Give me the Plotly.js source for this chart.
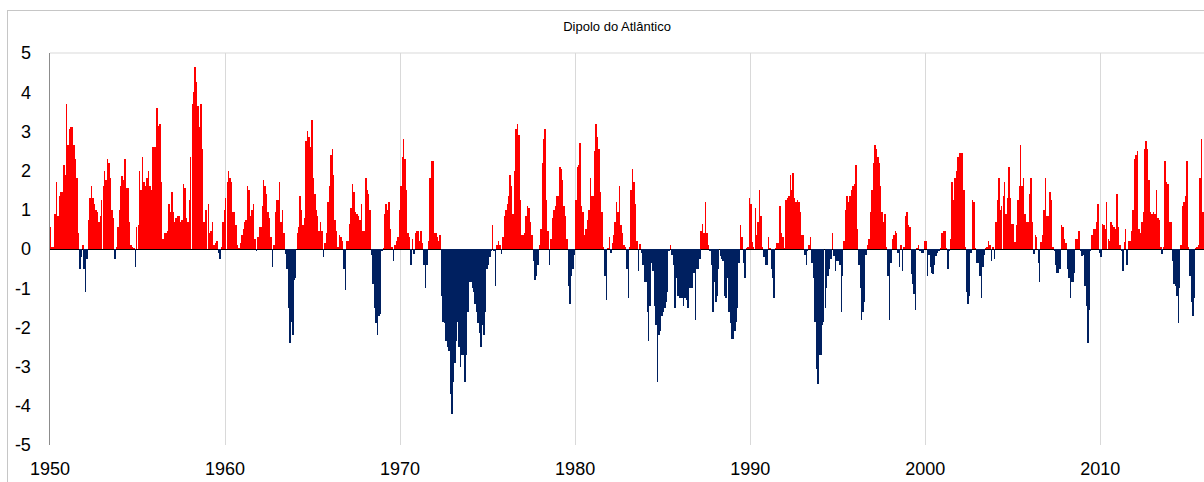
<!DOCTYPE html>
<html><head><meta charset="utf-8">
<script src="https://cdn.plot.ly/plotly-3.0.1.min.js"></script>
<style>
html,body{margin:0;padding:0;background:#fff;overflow:hidden;}
#frame{position:absolute;left:7px;top:10px;width:1400px;height:700px;border:1px solid #c6c6c6;box-sizing:border-box;}
#chart{position:absolute;left:0;top:0;width:1204px;height:482px;}
</style></head><body>
<div id="frame"></div>
<div id="chart"></div>
<script>
const startYear = 1950;
const chartTitle = 'Dipolo do Atlântico';
const decadeLabels = ['1950','1960','1970','1980','1990','2000','2010'];
const yTickValues = [5, 4, 3, 2, 1, 0, -1, -2, -3, -4, -5];
const yTickLabels = ['5', '4', '3', '2', '1', '0', '-1', '-2', '-3', '-4', '-5'];

// monthly values, one row per year
const d1950s = [
 0.55, 0.05, 0.05, 0.9, 1.7, 0.85, 1.35, 1.45, 1.45, 2.15, 1.9, 3.7,
 2.65, 3.05, 3.1, 3.1, 2.65, 2.3, 1.8, 0.4, -0.5, -0.2, 0.1, -0.5,
 -1.1, -0.25, 0.75, 1.3, 1.6, 1.3, 1.15, 1.0, 0.95, 0.7, 0.85, 1.25,
 1.6, 2.0, 1.75, 2.3, 2.2, 1.8, 1.0, 0.8, -0.25, 0.05, 0.55, 1.0,
 1.6, 1.85, 1.75, 2.3, 1.55, 1.55, 0.7, 0.1, 0.05, 0.02, -0.45, 0.55,
 0.6, 2.0, 1.5, 2.35, 1.7, 1.6, 1.8, 2.0, 1.6, 1.5, 2.6, 2.6,
 2.6, 3.6, 3.15, 3.2, 1.7, 0.25, 0.4, 0.4, 0.45, 1.15, 0.95, 1.45,
 0.95, 0.7, 0.8, 0.85, 0.85, 0.7, 0.75, 1.65, 1.55, 0.8, 0.7, 1.25,
 2.35, 3.7, 4.0, 4.65, 4.25, 3.65, 3.1, 3.7, 2.55, 0.7, 1.0, 1.0,
 1.15, 0.4, 0.45, 0.7, 0.1, 0.15, 0.2, -0.1, -0.25, 0.05, 0.7, 1.0
];
const d1960s = [
 1.3, 1.7, 2.0, 1.8, 1.7, 0.95, 0.95, 0.6, 0.1, 0.02, 0.15, 0.35,
 0.5, 0.7, 0.75, 1.6, 1.5, 0.85, 1.0, 1.15, 0.25, -0.05, 0.3, 0.55,
 0.55, 1.1, 1.75, 1.6, 1.4, 0.95, 0.8, 0.3, -0.45, 0.1, 0.95, 1.25,
 1.25, 1.7, 0.7, 1.0, 0.4, -0.12, -0.5, -1.5, -2.4, -1.85, -2.2, -0.8,
 -0.75, 0.4, 0.55, 1.35, 1.0, 0.6, 0.8, 2.75, 3.0, 2.85, 2.6, 3.3,
 1.8, 1.4, 1.0, 0.85, 0.45, 0.7, 0.45, -0.2, 0.15, 0.4, 1.2, 1.6,
 2.4, 2.55, 1.9, 0.75, 0.45, 0.05, 0.35, 0.3, 0.2, -0.5, -1.05, 0.2,
 0.2, 0.65, 1.05, 1.65, 1.45, 0.95, 0.9, 0.85, 0.75, 1.15, 0.45, 0.45,
 1.8, 1.5, 1.4, 1.0, -0.15, -0.9, -1.5, -1.9, -2.2, -1.7, -1.65, -0.05,
 0.02, 0.9, 1.15, 1.0, 1.2, 0.5, 0.05, -0.3, 0.1, 0.2, 0.3, 1.0
];
const d1970s = [
 1.6, 2.35, 2.8, 2.3, 1.5, 0.4, 0.3, -0.4, 0.25, -0.12, 0.4, 0.45,
 0.45, 0.2, 0.45, 0.15, -0.4, -1.0, -0.4, 0.2, 1.8, 2.25, 2.25, 0.4,
 0.4, 0.3, 0.2, 0.35, -1.2, -1.85, -1.9, -2.35, -2.5, -2.6, -3.7, -4.2,
 -3.4, -2.9, -2.35, -1.85, -2.5, -3.0, -2.7, -2.7, -3.4, -2.7, -1.6, -0.85,
 -0.85, -1.0, -1.1, -1.4, -1.6, -1.9, -2.15, -2.5, -1.95, -2.2, -1.6, -0.5,
 -0.4, -0.2, -0.05, 0.6, -0.05, -0.95, 0.1, 0.2, 0.1, -0.12, 0.3, 0.85,
 1.0, 1.15, 1.35, 1.9, 1.6, 0.9, 2.0, 3.05, 3.2, 2.9, 1.25, 0.35,
 0.35, 0.4, 0.85, 1.1, 1.05, 0.7, 0.35, -0.3, -0.8, -0.7, -0.4, 0.1,
 0.5, 2.2, 2.8, 3.05, 1.25, 0.45, -0.4, 0.25, 0.8, 1.0, 1.1, 1.35,
 1.35, 2.1, 2.05, 1.75, 1.1, 0.85, 0.25, -0.95, -1.4, -0.7, -0.5, -0.15
];
const d1980s = [
 1.25, 2.1, 2.15, 2.7, 1.1, 0.95, 0.35, 0.5, 0.75, 1.0, 1.8, 1.35,
 1.35, 2.5, 3.2, 2.85, 2.55, 1.45, 0.95, 0.05, -0.7, -1.3, 0.02, 0.3,
 -0.1, 0.15, 0.35, 0.7, 1.2, 0.95, 1.6, 0.6, 0.4, 0.1, 0.05, -0.5,
 -1.25, 0.05, 1.5, 2.05, 1.7, 1.15, 0.2, -0.55, 0.12, -0.1, -0.4, -0.85,
 -0.85, -1.6, -2.35, -1.45, -0.35, -0.55, -1.45, -1.95, -3.4, -2.2, -2.1, -1.7,
 -1.6, -1.5, -1.35, -1.1, -0.05, 0.1, -0.15, -0.4, -1.5, -0.75, -1.2, -1.25,
 -1.25, -1.25, -1.45, -1.25, -1.3, -1.5, -1.0, -1.0, -1.0, -0.6, -1.8, -0.5,
 -0.5, -0.25, 0.45, 0.65, 0.4, 1.2, 0.4, 0.1, -0.05, -0.4, -1.6, -0.85,
 -1.35, -1.2, -0.5, -0.17, -0.25, -0.3, -1.2, -1.25, -0.75, -1.6, -1.9, -2.3,
 -2.3, -2.1, -1.85, -1.5, -0.35, 0.6, 0.3, -0.35, -0.75, 0.02, 0.05, 1.3
];
const d1990s = [
 1.15, 0.17, 0.05, 1.05, 0.35, 0.7, 1.5, 0.85, 0.05, -0.2, -0.4, -0.4,
 0.3, 0.02, -0.5, -0.75, -1.25, 0.02, 0.15, 0.15, 1.1, 0.4, 0.3, 0.02,
 1.25, 1.3, 1.35, 1.9, 1.5, 1.95, 1.3, 1.2, 1.25, 1.2, 0.95, 0.35,
 0.35, -0.15, -0.4, -0.05, 0.1, 0.3, -0.35, -0.75, -1.85, -3.05, -3.45, -2.7,
 -2.7, -1.95, -1.85, -1.5, -1.0, -0.7, -0.5, -0.25, 0.4, -0.17, -0.55, -0.3,
 -0.3, -0.4, -1.6, -0.7, 0.2, 1.0, 1.35, 1.2, 1.35, 1.5, 1.6, 1.65,
 2.15, 0.5, -0.4, -1.0, -1.8, -1.6, -1.35, -0.15, 0.1, 0.25, 0.95, 1.5,
 2.2, 2.65, 2.55, 2.35, 2.2, 1.6, 0.95, 0.7, 0.9, 0.05, -0.7, -1.8,
 -0.35, 0.25, 0.35, 0.45, 0.4, -0.1, -0.45, 0.1, -0.55, 0.05, 0.85, 0.95,
 0.6, 0.55, -0.65, -0.9, -1.15, -1.55, 0.02, 0.1, -0.05, -0.1, -0.1, 0.2
];
const d2000s = [
 0.2, -0.7, -0.15, -0.45, -0.6, -0.65, -0.4, -0.17, -0.1, -0.05, 0.03, 0.4,
 0.45, 0.45, 0.02, -0.5, -0.05, 0.25, 1.7, 1.25, 1.8, 2.0, 2.35, 2.45,
 2.45, 2.45, 1.5, 0.05, -1.1, -1.4, -1.2, -0.1, 1.25, 1.2, 0.02, -0.35,
 -0.35, -0.7, -1.25, -0.45, -0.15, 0.02, 0.05, 0.2, 0.1, -0.3, 0.05, -0.25,
 0.7, 1.25, 1.8, 1.0, 1.1, 1.35, 1.7, 0.9, 1.3, 2.1, 1.3, 0.65,
 0.65, 0.17, 0.6, 1.25, 1.6, 2.65, 1.6, 1.8, 0.9, 0.7, 0.7, 1.4,
 1.8, 0.7, -0.12, 0.35, 0.3, -0.35, -0.85, 0.17, 0.35, 1.0, 1.8, 0.85,
 0.85, 1.45, 1.25, 0.05, -0.05, -0.4, -0.6, -0.6, -0.5, 0.6, 0.55, 0.25,
 0.15, -0.5, -0.75, -1.25, -0.85, -0.85, -0.6, 0.25, 0.25, 0.45, -0.05, -0.17,
 -0.15, -0.95, -1.45, -2.4, -1.55, -0.05, 0.35, 0.5, 0.5, 0.7, 1.15, -0.1
];
const d2010s = [
 -0.2, 0.65, 0.6, 0.5, 1.2, 0.25, 0.2, 0.7, 0.6, 0.55, 0.5, 1.4,
 0.55, 0.1, -0.05, -0.55, 0.17, 0.5, -0.4, 0.2, 0.2, 0.45, 1.0, 2.3,
 2.4, 2.5, 0.5, 0.4, 0.7, 0.95, 2.55, 2.75, 2.55, 1.75, 0.95, 0.9,
 0.95, 0.9, 1.5, 0.8, 0.75, 0.05, -0.12, 0.05, 2.25, 1.7, 1.65, 0.7,
 0.7, -0.3, -0.9, -0.95, -1.2, -1.9, -1.0, 0.1, 1.1, 1.2, 1.35, 2.25,
 0.05, -0.7, -1.35, -1.7, -1.25, 0.02, 0.05, 0.1, 1.8, 2.8, 0.95, 0.9
];

const values = [].concat(d1950s, d1960s, d1970s, d1980s, d1990s, d2000s, d2010s);
const dates = values.map((v, i) => {
  const y = startYear + Math.floor(i / 12);
  const m = (i % 12) + 1;
  return y + '-' + String(m).padStart(2, '0') + '-16';
});
const monthMs = 86400000 * 30.44;

const pos = values.map(v => v > 0 ? v : null);
const neg = values.map(v => v < 0 ? v : null);

const traces = [
  {type: 'bar', x: dates, y: pos, width: monthMs, marker: {color: '#ff0000', line: {width: 0}}, hoverinfo: 'x+y'},
  {type: 'bar', x: dates, y: neg, width: monthMs, marker: {color: '#002060', line: {width: 0}}, hoverinfo: 'x+y'}
];

const font = 'Liberation Sans, Arial, sans-serif';
const layout = {
  width: 1204, height: 482,
  margin: {l: 50, r: 0, t: 53, b: 37, pad: 0},
  paper_bgcolor: 'rgba(0,0,0,0)', plot_bgcolor: 'rgba(0,0,0,0)',
  showlegend: false,
  barmode: 'overlay', bargap: 0,
  title: {text: chartTitle, font: {family: font, size: 13, color: '#000'},
          x: 0.5125, xref: 'container', xanchor: 'center', y: 0.946, yref: 'container', yanchor: 'middle'},
  xaxis: {
    type: 'date', range: ['1950-01-01', '2015-12-05'],
    tickvals: decadeLabels.map(d => d + '-01-01'), ticktext: decadeLabels,
    showgrid: true, gridcolor: '#d9d9d9', gridwidth: 1,
    showline: false, zeroline: false, ticks: '',
    tickfont: {family: font, size: 18, color: '#000'}, ticklabelstandoff: 11
  },
  yaxis: {
    range: [-5, 5], tickvals: yTickValues, ticktext: yTickLabels,
    showgrid: false, showline: true, linecolor: '#8c8c8c', linewidth: 1.5,
    zeroline: true, zerolinecolor: '#000', zerolinewidth: 1,
    ticks: '', tickfont: {family: font, size: 18, color: '#000'}, ticklabelstandoff: 14
  },
  shapes: [{type: 'line', xref: 'paper', yref: 'paper', x0: 0, x1: 1, y0: 1, y1: 1, line: {color: '#d9d9d9', width: 1}}]
};
Plotly.newPlot('chart', traces, layout, {displayModeBar: false, staticPlot: true});
</script>
</body></html>
